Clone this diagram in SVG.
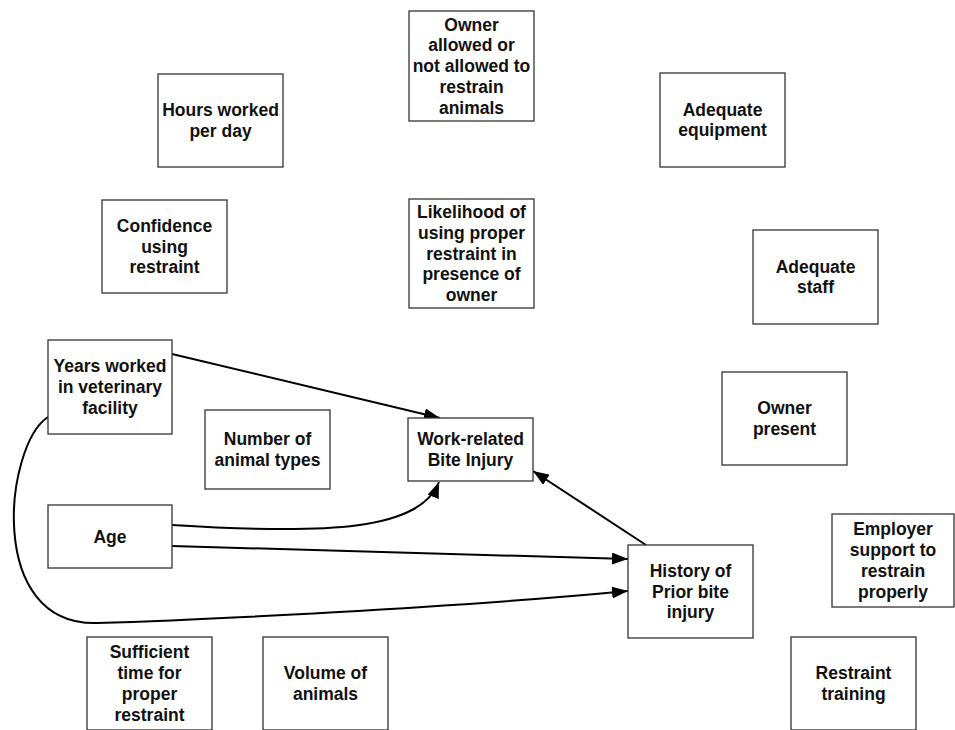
<svg xmlns="http://www.w3.org/2000/svg" width="955" height="730" viewBox="0 0 955 730">
<style>
.box{fill:#fff;stroke:#333;stroke-width:1.3}
.lbl{font-family:"Liberation Sans",Arial,sans-serif;font-weight:bold;font-size:17.5px;fill:#111;text-anchor:middle}
.edge{fill:none;stroke:#000;stroke-width:2;marker-end:url(#arr)}
</style>
<defs>
<marker id="arr" markerUnits="userSpaceOnUse" markerWidth="16" markerHeight="12" refX="16" refY="6" orient="auto" viewBox="0 0 16 12">
<path d="M0,0 L16,6 L0,12 z" fill="#000"/>
</marker>
</defs>
<rect width="955" height="730" fill="#fff"/>
<g id="connectors">
<path class="edge" d="M172,354 L440,418"/>
<path class="edge" d="M172,525 C330,535 420,530 439,482"/>
<path class="edge" d="M172,546 L628,559"/>
<path class="edge" d="M48,417 C5,445 -15,626 97,623 C200,620 450,608 628,591"/>
<path class="edge" d="M646,545 L533,471"/>
</g>
<g id="hours"><rect class="box" x="158" y="74" width="125" height="93"/><text class="lbl" x="220.5" y="116.1">Hours worked</text><text class="lbl" x="220.5" y="136.9">per day</text></g>
<g id="owner_allowed"><rect class="box" x="409" y="11" width="125" height="110"/><text class="lbl" x="471.5" y="30.5">Owner</text><text class="lbl" x="471.5" y="51.25">allowed or</text><text class="lbl" x="471.5" y="72">not allowed to</text><text class="lbl" x="471.5" y="92.75">restrain</text><text class="lbl" x="471.5" y="113.5">animals</text></g>
<g id="adequate_equipment"><rect class="box" x="660" y="73" width="125" height="94"/><text class="lbl" x="722.5" y="115.6">Adequate</text><text class="lbl" x="722.5" y="136.4">equipment</text></g>
<g id="confidence"><rect class="box" x="102" y="200" width="125" height="93"/><text class="lbl" x="164.5" y="231.75">Confidence</text><text class="lbl" x="164.5" y="252.5">using</text><text class="lbl" x="164.5" y="273.25">restraint</text></g>
<g id="likelihood"><rect class="box" x="409" y="199" width="125" height="109"/><text class="lbl" x="471.5" y="218">Likelihood of</text><text class="lbl" x="471.5" y="238.75">using proper</text><text class="lbl" x="471.5" y="259.5">restraint in</text><text class="lbl" x="471.5" y="280.25">presence of</text><text class="lbl" x="471.5" y="301">owner</text></g>
<g id="adequate_staff"><rect class="box" x="753" y="230" width="125" height="94"/><text class="lbl" x="815.5" y="272.6">Adequate</text><text class="lbl" x="815.5" y="293.4">staff</text></g>
<g id="years_worked"><rect class="box" x="48" y="340" width="124" height="94"/><text class="lbl" x="110" y="372.25">Years worked</text><text class="lbl" x="110" y="393">in veterinary</text><text class="lbl" x="110" y="413.75">facility</text></g>
<g id="owner_present"><rect class="box" x="722" y="372" width="125" height="93"/><text class="lbl" x="784.5" y="414.1">Owner</text><text class="lbl" x="784.5" y="434.9">present</text></g>
<g id="animal_types"><rect class="box" x="205" y="410" width="125" height="79"/><text class="lbl" x="267.5" y="445.1">Number of</text><text class="lbl" x="267.5" y="465.9">animal types</text></g>
<g id="bite_injury"><rect class="box" x="408" y="418" width="125" height="63"/><text class="lbl" x="470.5" y="445.1">Work-related</text><text class="lbl" x="470.5" y="465.9">Bite Injury</text></g>
<g id="age"><rect class="box" x="48" y="505" width="124" height="63"/><text class="lbl" x="110" y="542.5">Age</text></g>
<g id="history"><rect class="box" x="628" y="545" width="125" height="93"/><text class="lbl" x="690.5" y="576.75">History of</text><text class="lbl" x="690.5" y="597.5">Prior bite</text><text class="lbl" x="690.5" y="618.25">injury</text></g>
<g id="employer_support"><rect class="box" x="832" y="514" width="122" height="93"/><text class="lbl" x="893" y="535.4">Employer</text><text class="lbl" x="893" y="556.1">support to</text><text class="lbl" x="893" y="576.9">restrain</text><text class="lbl" x="893" y="597.6">properly</text></g>
<g id="sufficient_time"><rect class="box" x="87" y="637" width="125" height="93"/><text class="lbl" x="149.5" y="658.4">Sufficient</text><text class="lbl" x="149.5" y="679.1">time for</text><text class="lbl" x="149.5" y="699.9">proper</text><text class="lbl" x="149.5" y="720.6">restraint</text></g>
<g id="volume"><rect class="box" x="263" y="637" width="125" height="93"/><text class="lbl" x="325.5" y="679.1">Volume of</text><text class="lbl" x="325.5" y="699.9">animals</text></g>
<g id="restraint_training"><rect class="box" x="791" y="637" width="125" height="93"/><text class="lbl" x="853.5" y="679.1">Restraint</text><text class="lbl" x="853.5" y="699.9">training</text></g>
</svg>
